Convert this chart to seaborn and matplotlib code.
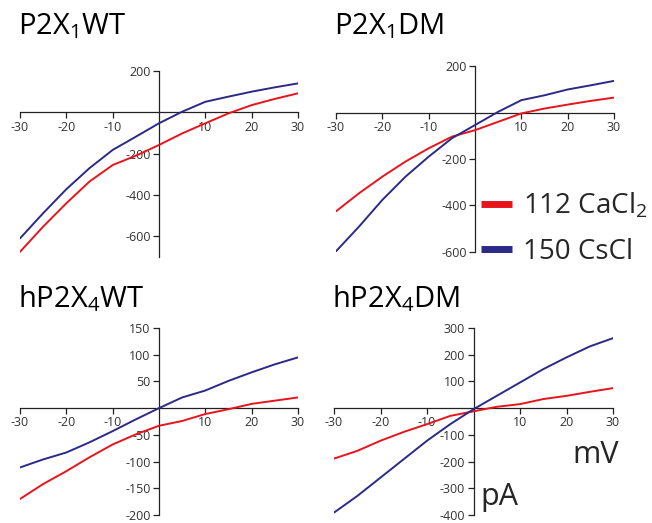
import numpy as np
import pandas as pd
import matplotlib
matplotlib.use("Agg")
import matplotlib.pyplot as plt
import seaborn as sns
from matplotlib.lines import Line2D

# membrane potential (mV) where values were read
voltage = [-30, -25, -20, -15, -10, -5, 0, 5, 10, 15, 20, 25, 30]

# currents (pA), 112 CaCl2 (red) and 150 CsCl (blue)
p2x1_wt_ca = [-675, -553, -440, -335, -255, -210, -158, -102, -53, -5, 35, 65, 92]
p2x1_wt_cs = [-610, -488, -372, -270, -182, -118, -53, 3, 51, 76, 100, 121, 140]
p2x1_dm_ca = [-425, -347, -276, -211, -154, -104, -76, -40, -4, 17, 34, 50, 64]
p2x1_dm_cs = [-597, -490, -376, -276, -190, -111, -54, 3, 53, 74, 99, 117, 136]
hp2x4_wt_ca = [-170, -142, -118, -92, -68, -49, -33, -24, -11, -2, 8, 14, 20]
hp2x4_wt_cs = [-111, -96, -83, -64, -43, -21, 0, 20, 33, 51, 67, 82, 95]
hp2x4_dm_ca = [-189, -160, -122, -89, -60, -29, -12, 5, 15, 34, 46, 61, 75]
hp2x4_dm_cs = [-391, -329, -260, -191, -122, -60, -4, 46, 96, 146, 190, 231, 262]

panel_titles = ["P2X$_1$WT", "P2X$_1$DM", "hP2X$_4$WT", "hP2X$_4$DM"]
series_labels = ["112 CaCl$_2$", "150 CsCl"]
x_ticks = [-30, -20, -10, 10, 20, 30]
y_ticks = [
    [-600, -400, -200, 200],
    [-600, -400, -200, 200],
    [-200, -150, -100, -50, 50, 100, 150],
    [-400, -300, -200, -100, 100, 200, 300],
]
y_limits = [(-700, 200), (-600, 200), (-200, 150), (-400, 300)]

colors = {series_labels[0]: "#e8141c", series_labels[1]: "#2b2a86"}

sns.set_theme(style="white")
plt.rcParams["font.family"] = ["Open Sans", "DejaVu Sans"]
plt.rcParams["mathtext.fontset"] = "custom"
plt.rcParams["mathtext.rm"] = "Open Sans"
plt.rcParams["mathtext.it"] = "Open Sans"
plt.rcParams["axes.unicode_minus"] = False

currents = [
    (p2x1_wt_ca, p2x1_wt_cs),
    (p2x1_dm_ca, p2x1_dm_cs),
    (hp2x4_wt_ca, hp2x4_wt_cs),
    (hp2x4_dm_ca, hp2x4_dm_cs),
]

rows = []
for title, (ca, cs) in zip(panel_titles, currents):
    for v, i_ca, i_cs in zip(voltage, ca, cs):
        rows.append({"panel": title, "mV": v, "pA": i_ca, "solution": series_labels[0]})
        rows.append({"panel": title, "mV": v, "pA": i_cs, "solution": series_labels[1]})
df = pd.DataFrame(rows)

fig = plt.figure(figsize=(6.52, 5.23), dpi=100)
W, H = 652.0, 523.0
# panel boxes in pixels: left, top, right, bottom
boxes = [(20, 71, 298, 257), (336, 66, 614, 252), (20, 328, 298, 515), (334, 328, 613, 515)]
title_pos = [(18, 26), (334, 26), (18, 299), (332, 299)]

for k, title in enumerate(panel_titles):
    l, t, r, b = boxes[k]
    ax = fig.add_axes([l / W, 1 - b / H, (r - l) / W, (b - t) / H])
    sns.lineplot(data=df[df["panel"] == title], x="mV", y="pA", hue="solution",
                 palette=colors, linewidth=1.4, legend=False, ax=ax, zorder=3)
    ax.set_xlim(-30, 30)
    ax.set_ylim(*y_limits[k])
    ax.spines["left"].set_position(("data", 0))
    ax.spines["bottom"].set_position(("data", 0))
    ax.spines["top"].set_visible(False)
    ax.spines["right"].set_visible(False)
    for s in ("left", "bottom"):
        ax.spines[s].set_color("#222222")
        ax.spines[s].set_linewidth(0.9)
    ax.set_xticks(x_ticks)
    ax.set_yticks(y_ticks[k])
    ax.tick_params(axis="both", which="major", direction="out", length=4, width=0.9,
                   color="#222222", labelsize=9, labelcolor="#333333", pad=2,
                   bottom=True, left=True)
    ax.set_xlabel("")
    ax.set_ylabel("")
    ax.set_axisbelow(True)
    ax.patch.set_alpha(0)
    fig.text(title_pos[k][0] / W, 1 - title_pos[k][1] / H, title,
             fontsize=21, ha="left", va="center", color="black")

handles = [Line2D([0], [0], color=colors[s], linewidth=5, solid_capstyle="butt")
           for s in series_labels]
fig.legend(handles, series_labels, loc="upper left", bbox_to_anchor=(481 / W, 1 - 191 / H),
           frameon=False, fontsize=20, handlelength=1.12, handletextpad=0.38,
           labelspacing=0.62, borderaxespad=0, borderpad=0)

fig.text(572 / W, 1 - 455 / H, "mV", fontsize=22, ha="left", va="center")
fig.text(480 / W, 1 - 497 / H, "pA", fontsize=22, ha="left", va="center")

fig.savefig("out.png", dpi=100)
